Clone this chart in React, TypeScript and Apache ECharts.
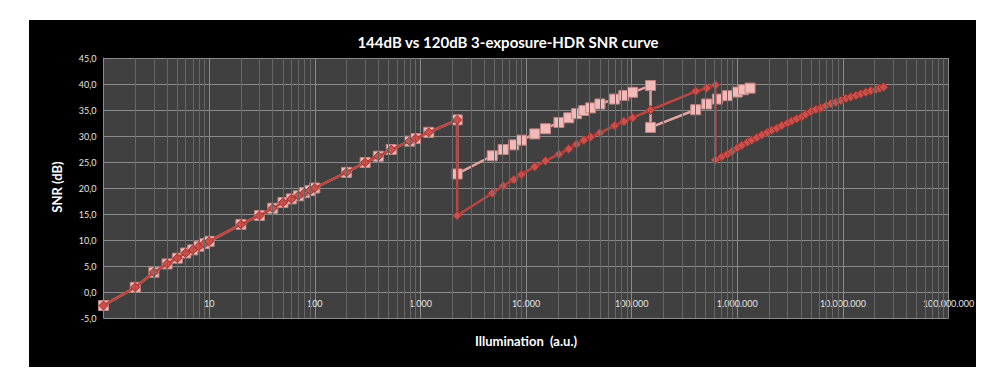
import React, { useEffect, useRef } from 'react';
import * as echarts from 'echarts';

// Shared first-exposure segment (both curves)
const sharedX = [1, 2, 3, 4, 5, 6, 7, 8, 9, 10, 20, 30, 40, 50, 60, 70, 80, 90, 100, 200, 300, 400, 530, 790, 900, 1200, 2230];
const sharedY = [-2.6, 0.9, 3.8, 5.4, 6.5, 7.5, 8.1, 8.8, 9.3, 9.75, 13.0, 14.7, 16.1, 17.2, 17.9, 18.5, 19.1, 19.5, 20.0, 23.0, 24.9, 26.1, 27.4, 29.0, 29.5, 30.7, 33.1];

// 144 dB curve (red diamonds)
const redMidX = [2230, 4790, 6080, 7660, 9060, 12100, 15300, 20500, 25400, 30100, 35300, 40900, 50100, 69000, 84500, 102000, 151000, 404000, 514000, 620000];
const redMidY = [14.7, 19.0, 20.4, 21.6, 22.6, 24.1, 25.2, 26.5, 27.5, 28.4, 29.2, 29.8, 30.6, 32.0, 32.8, 33.5, 35.0, 38.6, 39.2, 39.8];
const redHighX = [620000, 713000, 807000, 887000, 1000000, 1104000, 1250000, 1370000, 1530000, 1710000, 1930000, 2120000, 2370000, 2640000, 2990000, 3290000, 3660000, 4090000, 4460000, 4970000, 5550000, 6180000, 6890000, 7690000, 8570000, 9570000, 10700000, 11900000, 13300000, 14800000, 16500000, 18400000, 20600000, 22400000, 24300000];
const redHighY = [25.4, 26.0, 26.5, 27.0, 27.7, 28.2, 28.8, 29.2, 29.7, 30.2, 30.7, 31.1, 31.5, 32.0, 32.5, 32.9, 33.3, 33.7, 34.2, 34.7, 35.1, 35.4, 35.8, 36.2, 36.5, 36.85, 37.2, 37.5, 37.8, 38.1, 38.4, 38.7, 38.95, 39.2, 39.4];

// 120 dB curve (pink squares)
const pinkMidX = [2230, 4790, 6080, 7660, 9060, 12100, 15300, 20500, 25400, 30100, 35300, 40900, 50100, 69000, 84500, 102000, 151000];
const pinkMidY = [22.7, 26.2, 27.4, 28.3, 29.2, 30.4, 31.4, 32.6, 33.5, 34.3, 34.9, 35.4, 36.15, 37.1, 37.8, 38.4, 39.7];
const pinkHighX = [151000, 404000, 514000, 649000, 807000, 1000000, 1146000, 1322000];
const pinkHighY = [31.65, 35.05, 36.15, 37.1, 37.75, 38.45, 38.9, 39.2];

const titleText = '144dB vs 120dB 3-exposure-HDR SNR curve';
const xAxisTitle = 'Illumination  (a.u.)';
const yAxisTitle = 'SNR (dB)';

const minorMultipliers = [2, 3, 4, 5, 6, 7, 8, 9];
const decades = [1, 10, 100, 1000, 10000, 100000, 1000000, 10000000];

function pairs(xs: number[], ys: number[]) {
  return xs.map((x, i) => [x, ys[i]]);
}

function fmtThousands(v: number) {
  return String(Math.round(v)).replace(/\B(?=(\d{3})+(?!\d))/g, '.');
}

export default function App() {
  const ref = useRef<HTMLDivElement>(null);

  useEffect(() => {
    if (!ref.current) return;
    const chart = echarts.init(ref.current, null, { renderer: 'svg' });

    const redData = [...pairs(sharedX, sharedY), ...pairs(redMidX, redMidY), ...pairs(redHighX, redHighY)];
    const pinkData = [...pairs(sharedX, sharedY), ...pairs(pinkMidX, pinkMidY), ...pairs(pinkHighX, pinkHighY)];
    const minorLines: { xAxis: number }[] = [];
    decades.forEach((d) => minorMultipliers.forEach((m) => minorLines.push({ xAxis: d * m })));

    const labelFont = 'Lato, "Open Sans", sans-serif';
    const gridColor = '#8a8a8a';
    const yMin = -5;
    const yMax = 45;
    const gridHeight = 260;

    chart.setOption({
      animation: false,
      backgroundColor: 'transparent',
      title: {
        text: titleText,
        left: 503,
        top: 29,
        textAlign: 'center',
        textStyle: { color: '#ffffff', fontSize: 15, fontWeight: 'bold', fontFamily: labelFont },
      },
      grid: {
        left: 103.5,
        top: 58,
        width: 845,
        height: gridHeight,
        show: true,
        backgroundColor: '#404040',
        borderWidth: 0,
      },
      xAxis: {
        type: 'log',
        logBase: 10,
        min: 1,
        max: 100000000,
        // put the axis (and its labels) on the y = 0 line, as in the reference
        offset: -(gridHeight * (0 - yMin)) / (yMax - yMin),
        axisLine: { show: true, onZero: false, lineStyle: { color: gridColor, width: 1 } },
        axisTick: { show: false },
        axisLabel: {
          color: '#e4e4e4',
          fontSize: 9,
          fontFamily: labelFont,
          margin: 7,
          formatter: (v: number) => fmtThousands(v),
        },
        splitLine: { show: true, lineStyle: { color: gridColor, width: 1 } },
      },
      yAxis: {
        type: 'value',
        min: yMin,
        max: yMax,
        interval: 5,
        axisLine: { show: true, lineStyle: { color: gridColor, width: 1 } },
        axisTick: { show: false },
        axisLabel: {
          color: '#e4e4e4',
          fontSize: 9,
          fontFamily: labelFont,
          margin: 7,
          formatter: (v: number) => v.toFixed(1).replace('.', ','),
        },
        splitLine: { show: true, lineStyle: { color: gridColor, width: 1 } },
      },
      graphic: [
        {
          type: 'text',
          x: 526,
          y: 341,
          style: {
            text: xAxisTitle,
            fill: '#ffffff',
            font: 'bold 13px Lato, "Open Sans", sans-serif',
            textAlign: 'center',
            textVerticalAlign: 'middle',
          },
        },
        {
          type: 'text',
          x: 57,
          y: 187,
          rotation: Math.PI / 2,
          style: {
            text: yAxisTitle,
            fill: '#ffffff',
            font: 'bold 13px Lato, "Open Sans", sans-serif',
            textAlign: 'center',
            textVerticalAlign: 'middle',
          },
        },
      ],
      series: [
        {
          type: 'line',
          data: [[1, -5]],
          symbol: 'none',
          silent: true,
          z: 1,
          lineStyle: { opacity: 0 },
          markLine: {
            silent: true,
            symbol: ['none', 'none'],
            label: { show: false },
            lineStyle: { color: '#676767', width: 1, type: 'solid' },
            data: minorLines,
          },
        },
        {
          name: '120dB',
          type: 'line',
          data: pinkData,
          symbol: 'rect',
          symbolSize: 10,
          z: 3,
          lineStyle: { color: '#e3a3a1', width: 2.5 },
          itemStyle: { color: '#f1b9b7', borderColor: '#c48583', borderWidth: 1 },
        },
        {
          name: '144dB',
          type: 'line',
          data: redData,
          symbol: 'diamond',
          symbolSize: 9,
          z: 4,
          lineStyle: { color: '#bd4541', width: 2.5 },
          itemStyle: { color: '#c9504b', borderColor: '#9a302c', borderWidth: 1 },
        },
      ],
    });

    return () => chart.dispose();
  }, []);

  return (
    <div style={{ position: 'absolute', left: 0, top: 0, width: 992, height: 379, background: '#ffffff' }}>
      <div style={{ position: 'absolute', left: 29, top: 20, width: 947, height: 347, background: '#000000' }} />
      <div ref={ref} style={{ position: 'absolute', left: 0, top: 0, width: 992, height: 379 }} />
    </div>
  );
}
